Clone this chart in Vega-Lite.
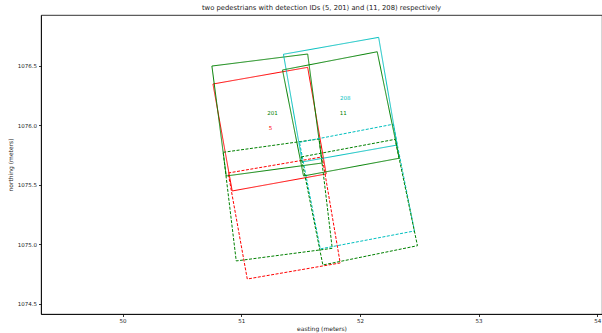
{
  "$schema": "https://vega.github.io/schema/vega-lite/v6.json",
  "width": 561,
  "height": 299,
  "autosize": {"type": "none"},
  "padding": {"left": 41, "top": 15, "right": 0, "bottom": 19},
  "background": "white",
  "config": {
    "font": "DejaVu Sans",
    "view": {"stroke": "black", "strokeWidth": 0.8},
    "axis": {"grid": false, "domainColor": "black", "tickColor": "black", "labelColor": "#222", "titleColor": "#222", "labelFont": "DejaVu Sans", "titleFont": "DejaVu Sans", "labelFontSize": 5.5, "titleFontSize": 6, "titleFontWeight": "normal", "tickSize": 2.5, "domainWidth": 0.8, "tickWidth": 0.8}
  },
  "title": {"text": "two pedestrians with detection IDs (5, 201) and (11, 208) respectively", "fontSize": 6.8, "fontWeight": "normal", "font": "DejaVu Sans", "color": "#222", "offset": 3, "anchor": "middle"},
  "datasets": {
    "boxes": [
      {"obj": "5", "part": "upper", "i": 0, "x": 50.762, "y": 1076.347},
      {"obj": "5", "part": "upper", "i": 1, "x": 51.560, "y": 1076.487},
      {"obj": "5", "part": "upper", "i": 2, "x": 51.716, "y": 1075.591},
      {"obj": "5", "part": "upper", "i": 3, "x": 50.924, "y": 1075.448},
      {"obj": "5", "part": "upper", "i": 4, "x": 50.762, "y": 1076.347},
      {"obj": "5", "part": "lower", "i": 0, "x": 50.890, "y": 1075.599},
      {"obj": "5", "part": "lower", "i": 1, "x": 51.682, "y": 1075.734},
      {"obj": "5", "part": "lower", "i": 2, "x": 51.834, "y": 1074.843},
      {"obj": "5", "part": "lower", "i": 3, "x": 51.051, "y": 1074.708},
      {"obj": "5", "part": "lower", "i": 4, "x": 50.890, "y": 1075.599},
      {"obj": "201", "part": "upper", "i": 0, "x": 50.753, "y": 1076.498},
      {"obj": "201", "part": "upper", "i": 1, "x": 51.560, "y": 1076.599},
      {"obj": "201", "part": "upper", "i": 2, "x": 51.682, "y": 1075.683},
      {"obj": "201", "part": "upper", "i": 3, "x": 50.874, "y": 1075.574},
      {"obj": "201", "part": "upper", "i": 4, "x": 50.753, "y": 1076.498},
      {"obj": "201", "part": "lower", "i": 0, "x": 50.848, "y": 1075.773},
      {"obj": "201", "part": "lower", "i": 1, "x": 51.657, "y": 1075.885},
      {"obj": "201", "part": "lower", "i": 2, "x": 51.767, "y": 1074.966},
      {"obj": "201", "part": "lower", "i": 3, "x": 50.958, "y": 1074.860},
      {"obj": "201", "part": "lower", "i": 4, "x": 50.848, "y": 1075.773},
      {"obj": "208", "part": "upper", "i": 0, "x": 51.356, "y": 1076.597},
      {"obj": "208", "part": "upper", "i": 1, "x": 52.158, "y": 1076.739},
      {"obj": "208", "part": "upper", "i": 2, "x": 52.314, "y": 1075.834},
      {"obj": "208", "part": "upper", "i": 3, "x": 51.514, "y": 1075.692},
      {"obj": "208", "part": "upper", "i": 4, "x": 51.356, "y": 1076.597},
      {"obj": "208", "part": "lower", "i": 0, "x": 51.491, "y": 1075.857},
      {"obj": "208", "part": "lower", "i": 1, "x": 52.281, "y": 1076.009},
      {"obj": "208", "part": "lower", "i": 2, "x": 52.460, "y": 1075.112},
      {"obj": "208", "part": "lower", "i": 3, "x": 51.666, "y": 1074.961},
      {"obj": "208", "part": "lower", "i": 4, "x": 51.491, "y": 1075.857},
      {"obj": "11", "part": "upper", "i": 0, "x": 51.348, "y": 1076.465},
      {"obj": "11", "part": "upper", "i": 1, "x": 52.146, "y": 1076.618},
      {"obj": "11", "part": "upper", "i": 2, "x": 52.331, "y": 1075.723},
      {"obj": "11", "part": "upper", "i": 3, "x": 51.525, "y": 1075.574},
      {"obj": "11", "part": "upper", "i": 4, "x": 51.348, "y": 1076.465},
      {"obj": "11", "part": "lower", "i": 0, "x": 51.505, "y": 1075.734},
      {"obj": "11", "part": "lower", "i": 1, "x": 52.297, "y": 1075.882},
      {"obj": "11", "part": "lower", "i": 2, "x": 52.485, "y": 1074.988},
      {"obj": "11", "part": "lower", "i": 3, "x": 51.688, "y": 1074.826},
      {"obj": "11", "part": "lower", "i": 4, "x": 51.505, "y": 1075.734}
    ],
    "labels": [
      {"obj": "201", "x": 51.263, "y": 1076.104},
      {"obj": "5", "x": 51.246, "y": 1075.977},
      {"obj": "208", "x": 51.876, "y": 1076.229},
      {"obj": "11", "x": 51.860, "y": 1076.104}
    ]
  },
  "layer": [
    {
      "data": {"name": "boxes"},
      "mark": {"type": "line", "strokeWidth": 1, "clip": true},
      "encoding": {
        "x": {"field": "x", "type": "quantitative", "scale": {"domain": [49.313, 54.04], "nice": false, "zero": false}, "axis": {"values": [50, 51, 52, 53, 54], "format": "d", "title": "easting (meters)", "titlePadding": 1, "labelPadding": 2}},
        "y": {"field": "y", "type": "quantitative", "scale": {"domain": [1074.414, 1076.927], "nice": false, "zero": false}, "axis": {"values": [1074.5, 1075, 1075.5, 1076, 1076.5], "format": ".1f", "title": "northing (meters)", "titlePadding": 4, "labelPadding": 2}},
        "detail": {"field": "obj"},
        "order": {"field": "i", "type": "quantitative"},
        "color": {"field": "obj", "type": "nominal", "scale": {"domain": ["5", "201", "11", "208"], "range": ["#ff0000", "#008000", "#008000", "#00bfbf"]}, "legend": null},
        "strokeDash": {"field": "part", "type": "nominal", "scale": {"domain": ["upper", "lower"], "range": [[1, 0], [3, 1.5]]}, "legend": null}
      }
    },
    {
      "data": {"name": "labels"},
      "mark": {"type": "text", "fontSize": 5.5, "font": "DejaVu Sans", "align": "center", "baseline": "middle"},
      "encoding": {
        "x": {"field": "x", "type": "quantitative"},
        "y": {"field": "y", "type": "quantitative"},
        "text": {"field": "obj"},
        "color": {"field": "obj", "type": "nominal", "scale": {"domain": ["5", "201", "11", "208"], "range": ["#ff0000", "#008000", "#008000", "#00bfbf"]}, "legend": null}
      }
    }
  ]
}
